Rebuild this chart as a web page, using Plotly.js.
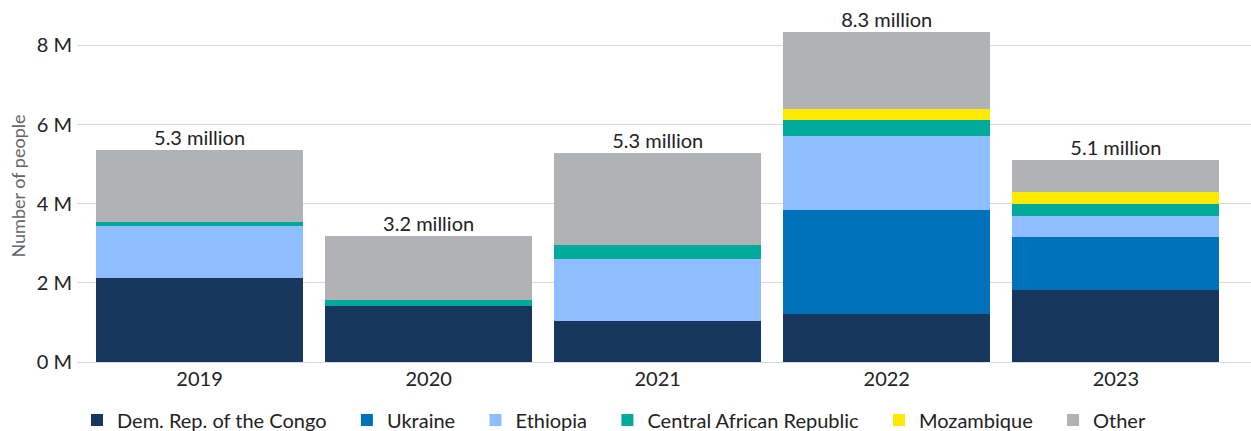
<!DOCTYPE html>
<html>
<head>
<meta charset="utf-8">
<script src="https://cdn.plot.ly/plotly-3.0.1.min.js"></script>
<style>html,body{margin:0;padding:0;background:#fff;}#chart{width:1251px;height:431px;}</style>
</head>
<body>
<div id="chart"></div>
<script>
const years = ["2019", "2020", "2021", "2022", "2023"];
const drc = [2.13, 1.42, 1.04, 1.21, 1.81];
const ukraine = [0, 0, 0, 2.62, 1.34];
const ethiopia = [1.31, 0, 1.55, 1.87, 0.53];
const car = [0.09, 0.14, 0.36, 0.41, 0.30];
const mozambique = [0, 0, 0, 0.27, 0.31];
const other = [1.82, 1.62, 2.32, 1.95, 0.81];
const totalLabels = ["5.3 million", "3.2 million", "5.3 million", "8.3 million", "5.1 million"];
const yTickVals = [0, 2, 4, 6, 8];
const yTickText = ["0 M", "2 M", "4 M", "6 M", "8 M"];

const FONT = "Lato, 'Open Sans', sans-serif";
const PAD = "\u00A0\u00A0\u00A0";

const series = [
  {name: "Dem. Rep. of the Congo", y: drc, color: "#18375F"},
  {name: "Ukraine", y: ukraine, color: "#0072BC"},
  {name: "Ethiopia", y: ethiopia, color: "#8EBEFF"},
  {name: "Central African Republic", y: car, color: "#00AB9C"},
  {name: "Mozambique", y: mozambique, color: "#FFE900"},
  {name: "Other", y: other, color: "#B1B2B5"}
];

const traces = series.map(s => ({
  type: "bar",
  name: s.name + PAD,
  x: years,
  y: s.y,
  marker: {color: s.color, line: {width: 0}},
  hoverinfo: "x+y+name"
}));

const totals = years.map((_, i) => series.reduce((a, s) => a + s.y[i], 0));
traces.push({
  type: "scatter", mode: "text", x: years, y: totals, text: totalLabels,
  textposition: "top center", cliponaxis: false, showlegend: false,
  textfont: {family: FONT, size: 20, color: "#222222"}, hoverinfo: "skip"
});

const layout = {
  width: 1251, height: 431,
  margin: {l: 77, r: 0, t: 10, b: 69},
  paper_bgcolor: "#ffffff", plot_bgcolor: "#ffffff",
  font: {family: FONT, size: 20, color: "#222222"},
  barmode: "stack",
  bargap: 0.096,
  showlegend: true,
  legend: {orientation: "h", x: 0, xanchor: "left", yref: "container", y: 0.0255, yanchor: "middle",
    traceorder: "normal", font: {family: FONT, size: 20, color: "#222222"}},
  xaxis: {type: "category", range: [-0.535, 4.59], showgrid: false, zeroline: false,
    showline: false, ticks: "", ticklabelstandoff: 3, tickfont: {family: FONT, size: 20, color: "#222222"}},
  yaxis: {range: [0, 8.893], tickvals: yTickVals, ticktext: yTickText,
    showgrid: true, gridcolor: "#d9d9d9", gridwidth: 1, zeroline: true, zerolinecolor: "#d9d9d9",
    zerolinewidth: 1, ticks: "", ticklabelstandoff: 4,
    tickfont: {family: FONT, size: 20, color: "#222222"},
    title: {text: "Number of people", font: {family: FONT, size: 18, color: "#666666"}, standoff: 6}}
};

Plotly.newPlot("chart", traces, layout, {displayModeBar: false, staticPlot: true});
</script>
</body>
</html>
